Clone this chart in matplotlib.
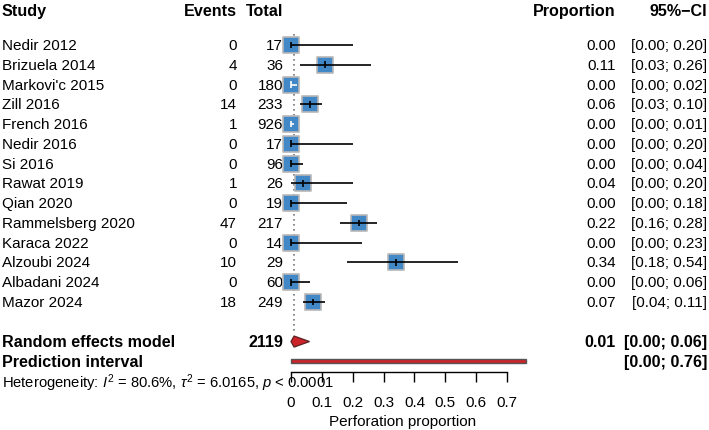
import matplotlib
matplotlib.use("Agg")
import matplotlib.pyplot as plt
import numpy as np

plt.rcParams['font.family'] = ['Liberation Sans', 'DejaVu Sans']
plt.rcParams['mathtext.fontset'] = 'custom'
plt.rcParams['mathtext.rm'] = 'Liberation Sans'
plt.rcParams['mathtext.it'] = 'Liberation Sans:italic'
plt.rcParams['mathtext.bf'] = 'Liberation Sans:bold'

studies = ["Nedir 2012", "Brizuela 2014", "Markovi'c 2015", "Zill 2016", "French 2016",
           "Nedir 2016", "Si 2016", "Rawat 2019", "Qian 2020", "Rammelsberg 2020",
           "Karaca 2022", "Alzoubi 2024", "Albadani 2024", "Mazor 2024"]
events = [0, 4, 0, 14, 1, 0, 0, 1, 0, 47, 0, 10, 0, 18]
totals = [17, 36, 180, 233, 926, 17, 96, 26, 19, 217, 14, 29, 60, 249]
props = [0.00, 0.11, 0.00, 0.06, 0.00, 0.00, 0.00, 0.04, 0.00, 0.22, 0.00, 0.34, 0.00, 0.07]
ci_low = [0.00, 0.03, 0.00, 0.03, 0.00, 0.00, 0.00, 0.00, 0.00, 0.16, 0.00, 0.18, 0.00, 0.04]
ci_high = [0.20, 0.26, 0.02, 0.10, 0.01, 0.20, 0.04, 0.20, 0.18, 0.28, 0.23, 0.54, 0.06, 0.11]

re_total = 2119
re_est, re_low, re_high = 0.01, 0.00, 0.06
pi_low, pi_high = 0.00, 0.76
xticks = [0, 0.1, 0.2, 0.3, 0.4, 0.5, 0.6, 0.7]
xtick_labels = ["0", "0.1", "0.2", "0.3", "0.4", "0.5", "0.6", "0.7"]

W, H = 709, 431
fig = plt.figure(figsize=(W / 100, H / 100), dpi=100)
ax = fig.add_axes([0, 0, 1, 1])
ax.patch.set_alpha(0)

# pixel geometry
x0_px, px_per_unit = 291.0, 308.6
row0_px, row_px = 46.0, 19.77
ax.set_xlim(-x0_px / px_per_unit, (W - x0_px) / px_per_unit)
ax.set_ylim((H - row0_px) / row_px, -row0_px / row_px)

fs = 11
fsb = 11.6
n = len(studies)
rows = np.arange(n)
tr = matplotlib.transforms.blended_transform_factory(ax.transAxes, ax.transData)

def fx(px):
    return px / W

# header
hy = -1.72
ax.text(fx(2), hy, "Study", transform=tr, ha='left', va='center', fontsize=fsb, fontweight='bold')
ax.text(fx(237), hy, "Events", transform=tr, ha='right', va='center', fontsize=fsb, fontweight='bold')
ax.text(fx(283), hy, "Total", transform=tr, ha='right', va='center', fontsize=fsb, fontweight='bold')
ax.text(fx(616), hy, "Proportion", transform=tr, ha='right', va='center', fontsize=fsb, fontweight='bold')
ax.text(fx(707), hy, "95%\u2212CI", transform=tr, ha='right', va='center', fontsize=fsb, fontweight='bold')

# reference dotted line
ax.vlines(re_est, -0.57, 14.5, colors='#777777', linestyles=(0, (1, 2)), linewidth=1.2, zorder=1)

half_sq = 7.0 / px_per_unit
for i in rows:
    ax.text(fx(2), i, studies[i], transform=tr, ha='left', va='center', fontsize=fs)
    ax.text(fx(237), i, str(events[i]), transform=tr, ha='right', va='center', fontsize=fs)
    ax.text(fx(283), i, str(totals[i]), transform=tr, ha='right', va='center', fontsize=fs)
    ax.text(fx(616), i, f"{props[i]:.2f}", transform=tr, ha='right', va='center', fontsize=fs)
    ax.text(fx(707), i, f"[{ci_low[i]:.2f}; {ci_high[i]:.2f}]", transform=tr, ha='right', va='center', fontsize=fs)

ax.scatter(props, rows, marker='s', s=118, facecolor='#4287C6', edgecolor='#B8B8B8',
           linewidth=1.2, zorder=3)
for i in rows:
    inside = (ci_low[i] > props[i] - half_sq) and (ci_high[i] < props[i] + half_sq)
    c = 'white' if inside else 'black'
    ax.hlines(i, ci_low[i], ci_high[i], colors=c, linewidth=1.2, zorder=4)
    ax.vlines(props[i], i - 0.17, i + 0.17, colors=c, linewidth=1.2, zorder=4)

# random effects model
ry = 15
ax.text(fx(2), ry, "Random effects model", transform=tr, ha='left', va='center', fontsize=fsb, fontweight='bold')
ax.text(fx(283), ry, str(re_total), transform=tr, ha='right', va='center', fontsize=fsb, fontweight='bold')
ax.text(fx(616), ry, f"{re_est:.2f}", transform=tr, ha='right', va='center', fontsize=fsb, fontweight='bold')
ax.text(fx(707), ry, f"[{re_low:.2f}; {re_high:.2f}]", transform=tr, ha='right', va='center', fontsize=fsb, fontweight='bold')
ax.fill([re_low, re_est, re_high, re_est], [ry, ry - 0.28, ry, ry + 0.28],
        facecolor='#CC2229', edgecolor='#5a2424', linewidth=0.9, zorder=3)

# prediction interval
py = 16
ax.text(fx(2), py, "Prediction interval", transform=tr, ha='left', va='center', fontsize=fsb, fontweight='bold')
ax.text(fx(707), py, f"[{pi_low:.2f}; {pi_high:.2f}]", transform=tr, ha='right', va='center', fontsize=fsb, fontweight='bold')
ax.barh(py, pi_high - pi_low, left=pi_low, height=0.2, color='#CC2229', edgecolor='#555555',
        linewidth=1.0, zorder=3)

# heterogeneity
ax.text(fx(2), 17.05, r"Heterogeneity: $I^2$ = 80.6%, $\tau^2$ = 6.0165, $p$ < 0.0001",
        transform=tr, ha='left', va='center', fontsize=10.6)

# axis
for s in ['top', 'left', 'right']:
    ax.spines[s].set_visible(False)
ax.spines['bottom'].set_position(('data', 16.54))
ax.spines['bottom'].set_bounds(xticks[0], xticks[-1])
ax.spines['bottom'].set_linewidth(1.0)
ax.set_xticks(xticks)
ax.set_xticklabels(xtick_labels, fontsize=fs)
ax.tick_params(axis='x', direction='out', length=7.5, width=1.0, pad=9)
ax.set_yticks([])
ax.text(0.36, 19.0, "Perforation proportion", ha='center', va='center', fontsize=fs)

fig.savefig("out.png", dpi=100)
